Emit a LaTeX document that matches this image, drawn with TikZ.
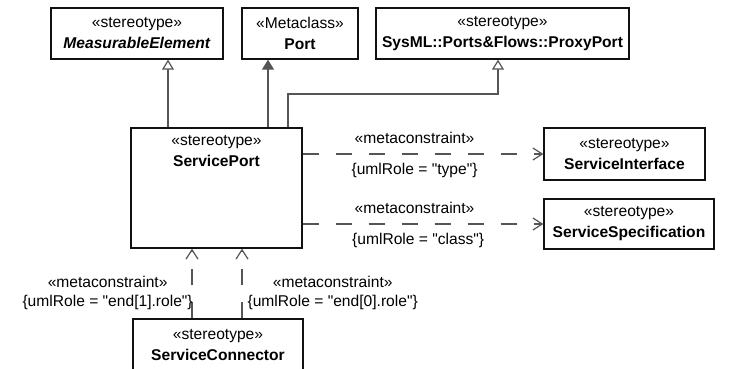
\documentclass[tikz,border=0pt]{standalone}
\usepackage{fontspec}
\setmainfont{Liberation Sans}
\usetikzlibrary{arrows.meta, positioning, calc}
\definecolor{lngray}{HTML}{555555}
\definecolor{bxblack}{HTML}{111111}
\newcommand{\dq}{\textquotedbl}

\begin{document}
\begin{tikzpicture}[
  x=0.75pt, y=-0.75pt,
  cls/.style={rectangle, draw=bxblack, line width=1pt, fill=white, align=center,
    inner sep=2pt, font=\fontsize{11.7}{15.75}\selectfont},
  clstxt/.style={align=center, inner sep=0pt, font=\fontsize{11.7}{15.75}\selectfont},
  lbl/.style={align=center, inner sep=0pt, font=\fontsize{11.7}{14.25}\selectfont},
  gen/.style={draw=lngray, line width=0.9pt,
    -{Triangle[open, length=7.5pt, width=9pt, fill=white]}},
  comp/.style={draw=lngray, line width=0.9pt, -{Triangle[length=7.5pt, width=9pt]}},
  dep/.style={draw=lngray, line width=0.9pt, dash pattern=on 12pt off 12.75pt,
    -{Straight Barb[length=7pt, width=9pt]}},
  ctop/.style={lbl, above=7.5pt, pos=0.465},
  cbot/.style={lbl, below=6.5pt, pos=0.465},
]

% Background
\fill[white] (0,0) rectangle (732,368);
\useasboundingbox (0,0) rectangle (732,368);

% top row
\node[cls, minimum width=129pt, minimum height=38.25pt] (meas) at (137,33.5)
  {«stereotype»\\\textbf{\textit{MeasurableElement}}};
\node[cls, minimum width=87pt, minimum height=38.25pt] (port) at (300,33.5)
  {«Metaclass»\\\textbf{Port}};
\node[cls, minimum width=189.75pt, minimum height=38.25pt] (proxy) at (502.5,33.5)
  {«stereotype»\\\textbf{SysML::Ports\&Flows::ProxyPort}};

% middle
\node[cls, minimum width=128.25pt, minimum height=90pt] (sport) at (216.5,188) {};
\node[clstxt, below=6pt of sport.north] (sporttxt) {«stereotype»\\\textbf{ServicePort}};
\node[cls, minimum width=120.75pt, minimum height=39pt] (sintf) at (624.5,154)
  {«stereotype»\\\textbf{ServiceInterface}};
\node[cls, minimum width=127.5pt, minimum height=37.5pt] (sspec) at (629,224)
  {«stereotype»\\\textbf{ServiceSpecification}};

% bottom
\node[cls, minimum width=127.5pt, minimum height=39pt] (sconn) at (218,345)
  {«stereotype»\\\textbf{ServiceConnector}};

% generalizations
\coordinate (pbend) at (498,94);
\draw[gen] (sport.north -| 168,0) -- (meas.south -| 168,0);
\draw[comp] (sport.north -| 268,0) -- (port.south -| 268,0);
\draw[gen] (sport.north -| 288,0) |- (pbend) -- (proxy.south -| pbend);

% metaconstraints
\draw[dep] (sport.east |- sintf.west) -- (sintf.west)
  node[ctop] (mc1) {«metaconstraint»}
  node[cbot] (rl1) {\{umlRole = \dq type\dq\}};
\draw[dep] (sport.east |- sspec.west) -- (sspec.west)
  node[ctop] (mc2) {«metaconstraint»}
  node[cbot, pos=0.48] (rl2) {\{umlRole = \dq class\dq\}};
\draw[dep] (sconn.north -| 192,0) -- (sport.south -| 192,0)
  node[lbl, pos=0.37, anchor=east, xshift=1pt] (mc3)
  {«metaconstraint»\\\{umlRole = \dq end[1].role\dq\}};
\draw[dep] (sconn.north -| 242,0) -- (sport.south -| 242,0)
  node[lbl, pos=0.37, anchor=west, xshift=3.75pt] (mc4)
  {«metaconstraint»\\\{umlRole = \dq end[0].role\dq\}};
\end{tikzpicture}
\end{document}
